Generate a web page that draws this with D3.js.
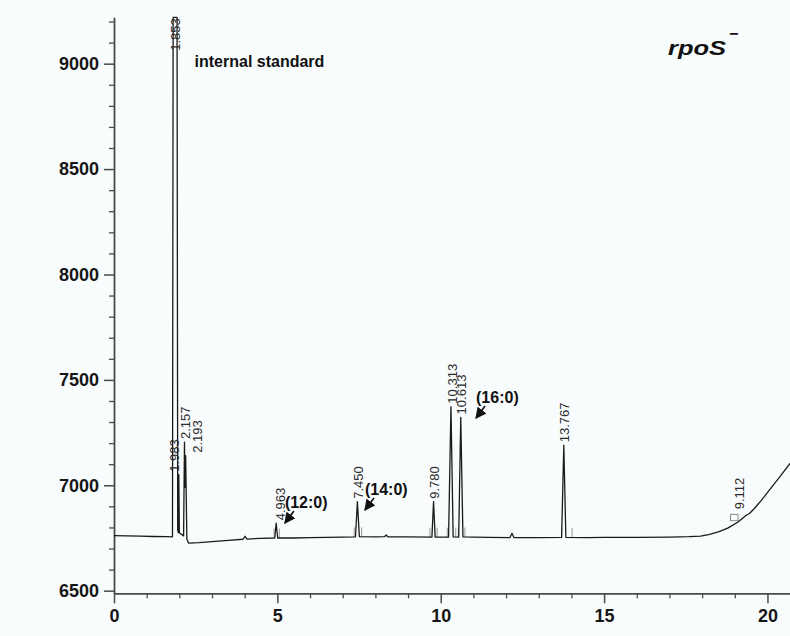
<!DOCTYPE html>
<html><head><meta charset="utf-8">
<script src="https://cdn.jsdelivr.net/npm/d3@7"></script>
<style>html,body{margin:0;padding:0;background:#f9fcfd;} svg{display:block;}</style>
</head><body><svg id="chart" width="790" height="636"></svg>
<script>
// ---- data ----
const traceTime = [0,0.4,0.8,1.2,1.6,1.79,1.81,1.93,1.95,1.965,1.983,2.0,2.13,2.157,2.175,2.193,2.23,2.28,2.6,3.0,3.5,3.95,4.01,4.07,4.5,4.92,4.963,5.01,5.5,6.0,6.5,7.0,7.39,7.45,7.51,8.0,8.28,8.33,8.38,9.0,9.73,9.78,9.83,10.24,10.313,10.38,10.55,10.613,10.68,11.0,11.5,12.12,12.18,12.24,13.0,13.70,13.767,13.83,14.5,15.0,16.0,17.0,17.6,17.95,18.2,18.5,18.8,19.1,19.35,19.45,19.6,19.8,20.1,20.4,20.69];
const traceSignal = [6761,6760,6759,6757,6756,6755,9240,9240,6790,6775,7050,6775,6760,7205,6990,7140,6745,6726,6728,6733,6739,6744,6758,6745,6748,6750,6820,6750,6750,6752,6753,6754,6755,6922,6756,6755,6756,6765,6755,6755,6754,6922,6754,6754,7373,6755,6754,7322,6755,6754,6753,6752,6772,6752,6752,6753,7190,6753,6752,6753,6753,6754,6756,6759,6766,6779,6798,6826,6858,6866,6890,6926,6985,7045,7104];

const peakLabels = ["1.853","1.983","2.157","2.193","4.963","7.450","9.780","10.313","10.613","13.767","9.112"];
const peakTimes  = [1.853,1.983,2.157,2.193,4.963,7.450,9.780,10.313,10.613,13.767,19.112];
const peakSignal = [9240,7050,7205,7140,6820,6922,6922,7373,7322,7190,6872];

const markerTime = [4.90,5.06,7.35,7.58,9.67,9.89,10.20,10.46,10.54,10.74,13.70,14.02];
const markerRise = 45;
const boxTime = [18.87,19.10];
const boxSignal = [6832,6862];

const acidLabels = ["(12:0)","(14:0)","(16:0)"];
const acidTime   = [5.20,7.65,11.05];
const acidSignal = [6816,6878,7314];

const standardLabel = "internal standard";
const strainLabel = "rpoS";
const strainSup = "\u2212";

const xMajorTicks = [0,5,10,15,20];
const xMinorTicks = [1,2,3,4,6,7,8,9,11,12,13,14,16,17,18,19];
const yMajorTicks = [6500,7000,7500,8000,8500,9000];
const yMinorTicks = [6600,6700,6800,6900,7100,7200,7300,7400,7600,7700,7800,7900,8100,8200,8300,8400,8600,8700,8800,8900,9100,9200];

// ---- layout ----
const svg = d3.select("#chart");
svg.append("rect").attr("width",790).attr("height",636).attr("fill","#f9fcfd");

const x = d3.scaleLinear().domain([0,20.69]).range([114,790]);
const y = d3.scaleLinear().domain([6487.6,9220]).range([593.3,17.3]).clamp(true);
const axisColor = "#4a4a4a";

// minor ticks
svg.append("g").attr("transform","translate(0,593.3)")
  .call(d3.axisBottom(x).tickValues(xMinorTicks).tickSize(5).tickFormat(""))
  .call(g=>g.select(".domain").remove())
  .call(g=>g.selectAll("line").attr("stroke",axisColor).attr("stroke-width",1.3));
svg.append("g").attr("transform","translate(114,0)")
  .call(d3.axisLeft(y).tickValues(yMinorTicks).tickSize(5).tickFormat(""))
  .call(g=>g.select(".domain").remove())
  .call(g=>g.selectAll("line").attr("stroke",axisColor).attr("stroke-width",1.3));

// major axes
const gx = svg.append("g").attr("transform","translate(0,593.3)")
  .call(d3.axisBottom(x).tickValues(xMajorTicks).tickSize(10).tickSizeOuter(0).tickPadding(6).tickFormat(d3.format("d")));
const gy = svg.append("g").attr("transform","translate(114,0)")
  .call(d3.axisLeft(y).tickValues(yMajorTicks).tickSize(10).tickSizeOuter(0).tickPadding(5).tickFormat(d3.format("d")));
[gx,gy].forEach(g=>{
  g.select(".domain").attr("stroke",axisColor).attr("stroke-width",1.8);
  g.selectAll(".tick line").attr("stroke",axisColor).attr("stroke-width",1.5);
  g.selectAll(".tick text").attr("fill","#161616").attr("font-family","Liberation Sans, Arial, sans-serif")
    .attr("font-size",18).attr("font-weight","bold");
});

// integration markers
const bis = d3.bisector(d=>d).left;
function baseAt(t){
  const i = Math.max(1, Math.min(traceTime.length-1, bis(traceTime,t)));
  const t0=traceTime[i-1], t1=traceTime[i];
  return d3.interpolateNumber(traceSignal[i-1],traceSignal[i])((t-t0)/(t1-t0));
}
svg.append("g").selectAll("line").data(markerTime).join("line")
  .attr("x1",d=>x(d)).attr("x2",d=>x(d))
  .attr("y1",d=>y(baseAt(d))).attr("y2",d=>y(baseAt(d)+markerRise))
  .attr("stroke","#9a9a9a").attr("stroke-width",1);
svg.append("rect").attr("x",x(boxTime[0])).attr("width",x(boxTime[1])-x(boxTime[0]))
  .attr("y",y(boxSignal[1])).attr("height",y(boxSignal[0])-y(boxSignal[1]))
  .attr("fill","none").attr("stroke","#8a8a8a").attr("stroke-width",1);

// trace
const pts = traceTime.map((t,i)=>[t,traceSignal[i]]);
svg.append("path").datum(pts)
  .attr("d",d3.line().x(d=>x(d[0])).y(d=>y(d[1])))
  .attr("fill","none").attr("stroke","#1a1a1a").attr("stroke-width",1.3).attr("stroke-linejoin","round");

// peak retention-time labels
const labelNudge = {"1.983":-5,"2.193":11,"4.963":3};
const yTopValue = y.domain()[1];
svg.append("g").selectAll("text").data(peakLabels).join("text")
  .attr("transform",(d,i)=>{
    const px = x(peakTimes[i]) + 1 + (labelNudge[d]||0);
    const py = peakSignal[i] >= yTopValue ? y(yTopValue)+1 : y(peakSignal[i]) - 3;
    return `translate(${px},${py}) rotate(-90)`;
  })
  .attr("text-anchor",(d,i)=>peakSignal[i] >= yTopValue ? "end" : "start")
  .attr("dy","0.35em")
  .attr("font-family","Liberation Sans, Arial, sans-serif").attr("font-size",13)
  .attr("fill","#2a2a2a").text(d=>d);

// fatty-acid annotations with arrows
svg.append("defs").append("marker").attr("id","ah").attr("viewBox","0 0 10 10")
  .attr("refX",9).attr("refY",5).attr("markerWidth",7).attr("markerHeight",7).attr("orient","auto")
  .append("path").attr("d","M0,0L10,5L0,10z").attr("fill","#111");
const ann = svg.append("g");
acidLabels.forEach((lab,i)=>{
  const tx = x(acidTime[i]), ty = y(acidSignal[i]);
  ann.append("line").attr("x1",tx+10).attr("y1",ty-13).attr("x2",tx+1).attr("y2",ty-1)
    .attr("stroke","#111").attr("stroke-width",1.6).attr("marker-end","url(#ah)");
  ann.append("text").attr("x",tx+1).attr("y",ty-22).attr("dy","0.35em")
    .attr("font-family","Liberation Sans, Arial, sans-serif").attr("font-size",16).attr("font-weight","bold")
    .attr("fill","#111").text(lab);
});

// internal standard label
svg.append("text").attr("x",x(peakTimes[0])+20).attr("y",y(8985))
  .attr("font-family","Liberation Sans, Arial, sans-serif").attr("font-size",16).attr("font-weight","bold")
  .attr("fill","#111").text(standardLabel);

// strain label
svg.append("text").attr("x",668).attr("y",55)
  .attr("font-family","Liberation Sans, Arial, sans-serif").attr("font-size",20).attr("font-weight","bold")
  .attr("font-style","italic").attr("fill","#111")
  .attr("textLength",58).attr("lengthAdjust","spacingAndGlyphs").text(strainLabel);
svg.append("text").attr("x",729).attr("y",39)
  .attr("font-family","Liberation Sans, Arial, sans-serif").attr("font-size",16).attr("font-weight","bold")
  .attr("fill","#111").text(strainSup);
</script></body></html>
